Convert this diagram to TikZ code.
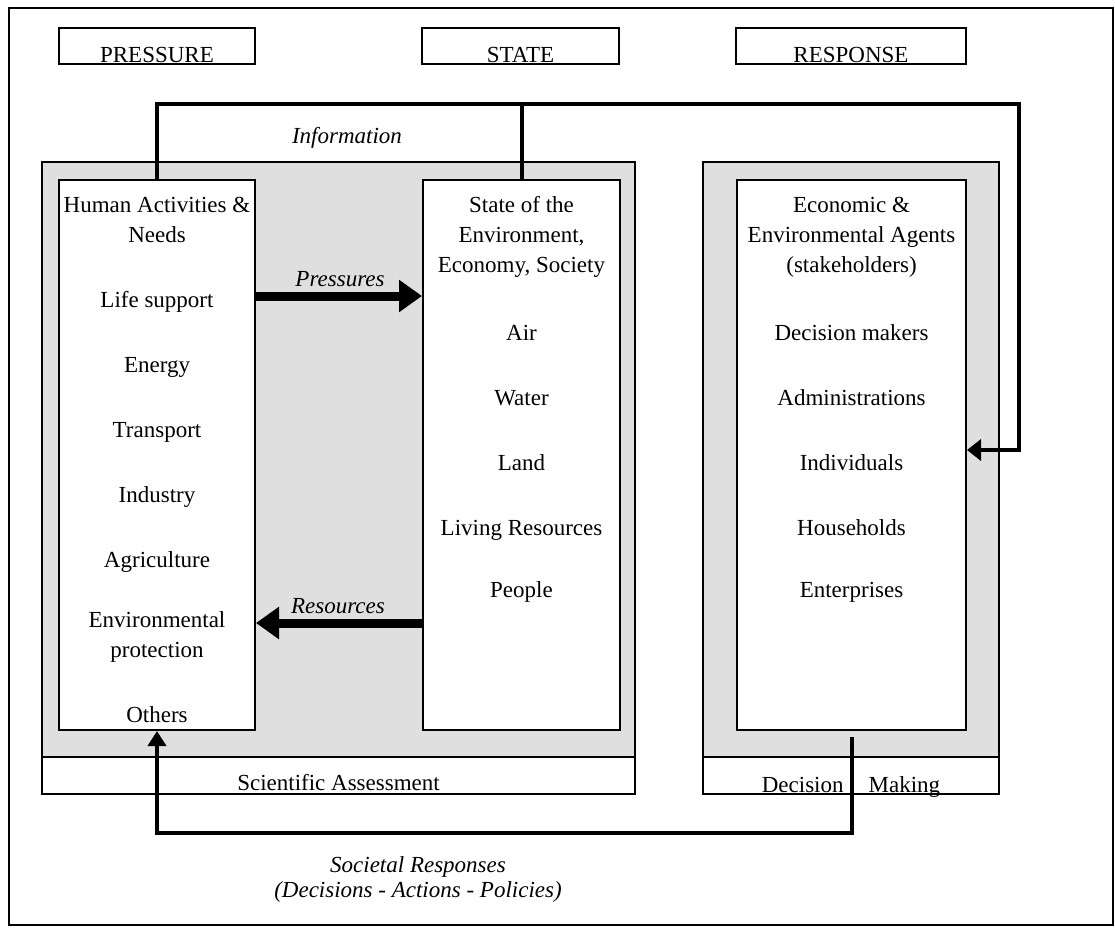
\documentclass[tikz,border=0pt]{standalone}
\usepackage{fontspec}
\setmainfont{Liberation Serif}
\usetikzlibrary{arrows.meta}

\tikzset{
  headbox/.style={draw, line width=2pt, minimum height=36pt, inner sep=0pt},
  panel/.style={draw, fill=gray!25, line width=1.5pt, minimum height=595pt, inner sep=0pt},
  footbox/.style={draw, fill=white, line width=1.5pt, minimum height=37pt, inner sep=0pt},
  itembox/.style={draw, fill=white, line width=2pt, minimum height=550pt, inner sep=0pt},
  word/.style={anchor=base, inner sep=0pt},
  flowline/.style={line width=4pt},
  bigarrow/.style={line width=9pt, -{Triangle[length=23pt,width=31pt]}},
}

\begin{document}
\begin{tikzpicture}[x=1pt,y=-1pt,font=\fontsize{23}{28}\selectfont]
    \useasboundingbox (0,0) rectangle (1115,929);

    % --- Frame ---
    \draw[line width=2pt] (9,8) rectangle (1113,925);

    % --- Headings ---
    \node[headbox, minimum width=196pt] (pressure) at (157,46) {};
    \node[headbox, minimum width=197pt] (state) at (520.5,46) {};
    \node[headbox, minimum width=230pt] (response) at (851,46) {};
    \node[word] (pressuretxt) at ([yshift=3pt]pressure.south) {PRESSURE};
    \node[word] (statetxt) at ([yshift=3pt]state.south) {STATE};
    \node[word] (responsetxt) at ([yshift=3pt]response.south) {RESPONSE};

    % --- Grey panels and their footers ---
    \node[panel, minimum width=593pt] (assess) at (338.5,459.5) {};
    \node[panel, minimum width=296pt] (decide) at (851,459.5) {};
    \node[footbox, minimum width=593pt] (sciass) at (338.5,775.5) {};
    \node[footbox, minimum width=296pt] (decmak) at (851,775.5) {};

    % --- Inner boxes ---
    \node[itembox, minimum width=196pt] (human) at (157,455) {};
    \node[itembox, minimum width=197pt] (env) at (521.5,455) {};
    \node[itembox, minimum width=229pt] (agents) at (851.5,455) {};

    % --- Coordinates for the connectors ---
    \coordinate (infoR) at (1019,104);
    \coordinate (backL) at (157,833);
    \coordinate (presY) at (0,296);
    \coordinate (resY) at (0,623);

    % --- Connectors ---
    % Information loop over the top
    \draw[flowline, -{Triangle[length=14pt,width=21pt]}]
        (human.north) |- (infoR) |- ([yshift=5pt]agents.east);
    \draw[flowline] (env.north) -- (env.north |- infoR);
    % Societal responses back along the bottom
    \draw[flowline, -{Triangle[length=15pt,width=18pt]}]
        ([yshift=-6pt]agents.south) |- (backL) -- (human.south);
    % Pressures and resources
    \draw[bigarrow] (human.east |- presY) -- (env.west |- presY);
    \draw[bigarrow] (env.west |- resY) -- (human.east |- resY);

    % --- Labels ---
    \node[word, font=\fontsize{23}{28}\selectfont\itshape] (infotxt) at (347,143) {Information};
    \node[word, font=\fontsize{23}{28}\selectfont\itshape] (prestxt) at (340,286) {Pressures};
    \node[word, font=\fontsize{23}{28}\selectfont\itshape] (restxt) at (338,613) {Resources};
    \node[word, font=\fontsize{23}{28}\selectfont\itshape] (soctxt) at (418,872) {Societal Responses};
    \node[word, font=\fontsize{23}{28}\selectfont\itshape] (dectxt) at (418,897) {(Decisions - Actions - Policies)};
    \node[word] (sciasstxt) at ([yshift=4pt]sciass.south) {Scientific Assessment};
    \node[word] (decmaktxt) at ([yshift=2pt]decmak.south) {Decision\hspace{25pt}Making};

    % Box contents
    \foreach \y/\t [count=\i] in {212/Human Activities \&, 242/Needs, 307/Life support,
        372/Energy, 437/Transport, 502/Industry, 567/Agriculture,
        627/Environmental, 657/protection, 722/Others}
      \node[word] (hum\i) at (human.center |- 0,\y) {\t};
    \foreach \y/\t [count=\i] in {212/State of the, 242/Environment{,}, 272/Economy{,} Society,
        340/Air, 405/Water, 470/Land, 535/Living Resources, 597/People}
      \node[word] (env\i) at (env.center |- 0,\y) {\t};
    \foreach \y/\t [count=\i] in {212/Economic \&, 242/Environmental Agents, 272/(stakeholders),
        340/Decision makers, 405/Administrations, 470/Individuals, 535/Households, 597/Enterprises}
      \node[word] (agt\i) at (agents.center |- 0,\y) {\t};

\end{tikzpicture}
\end{document}
